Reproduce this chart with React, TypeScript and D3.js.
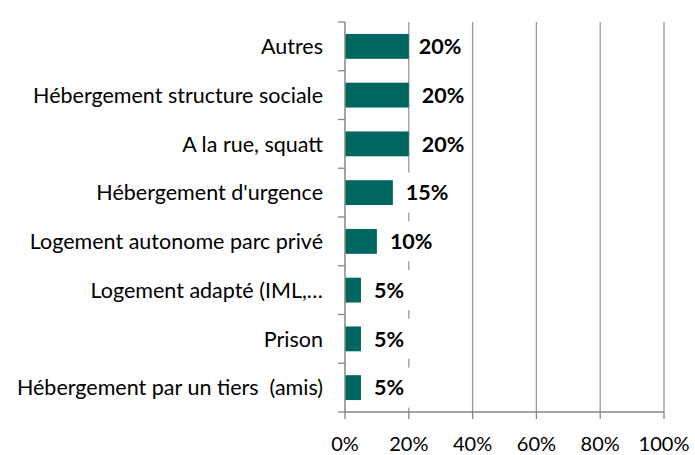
import React from "react";
import * as d3 from "d3";

const categories = [
  "Autres",
  "Hébergement structure sociale",
  "A la rue, squatt",
  "Hébergement d'urgence",
  "Logement autonome parc privé",
  "Logement adapté (IML,…",
  "Prison",
  "Hébergement par un tiers  (amis)",
];
const values = [20, 20, 20, 15, 10, 5, 5, 5];
const xTicks = [0, 20, 40, 60, 80, 100];

const W = 695;
const H = 455;
const left = 345;
const right = 664;
const top = 22;
const bottom = 412;
const font = "Lato, 'Open Sans', sans-serif";

export default function App() {
  const x = d3.scaleLinear().domain([0, 100]).range([left, right]);
  const y = d3.scaleBand().domain(categories).range([top, bottom]).paddingInner(0.49).paddingOuter(0.245);
  const band = d3.scaleBand().domain(categories).range([top, bottom]);
  const gridColor = "#9a9a9a";
  const axisColor = "#868686";
  const labelW = (v: number) => (String(v).length === 1 ? 30 : 42);
  return (
    <svg width={W} height={H} style={{ position: "absolute", left: 0, top: 0 }}>
      <rect width={W} height={H} fill="#fff" />
      {xTicks.filter((t) => t > 0).map((t) => (
        <line key={t} x1={x(t)} x2={x(t)} y1={top} y2={bottom} stroke={gridColor} strokeWidth={1.3} />
      ))}
      {categories.map((c, i) => (
        <rect key={c} x={x(0)} y={y(c)!} width={x(values[i]) - x(0)} height={y.bandwidth()} fill="#006760" />
      ))}
      {categories.map((c, i) => {
        const lx = x(values[i]) + (i === 0 ? 10 : 13);
        const cy = band(c)! + band.bandwidth() / 2;
        return (
          <g key={c}>
            <rect x={lx - 7} y={cy - 20} width={labelW(values[i]) + 14} height={40} fill="#fff" />
            <text x={lx} y={cy} dy="0.36em" fontFamily={font} fontWeight={700} fontSize={21.5} fill="#000">
              {values[i]}%
            </text>
          </g>
        );
      })}
      {/* y axis */}
      <line x1={left} x2={left} y1={top} y2={bottom} stroke={axisColor} strokeWidth={1.5} />
      {d3.range(categories.length + 1).map((k) => {
        const yy = top + k * band.step();
        return <line key={k} x1={left - 7} x2={left} y1={yy} y2={yy} stroke={axisColor} strokeWidth={1.3} />;
      })}
      {categories.map((c) => (
        <text key={c} x={323} y={band(c)! + band.bandwidth() / 2} dy="0.36em" textAnchor="end" fontFamily={font} fontSize={21.5} fill="#000" style={{ whiteSpace: "pre" }}>
          {c}
        </text>
      ))}
      {/* x axis */}
      <line x1={left} x2={right} y1={bottom} y2={bottom} stroke={axisColor} strokeWidth={1.5} />
      {xTicks.map((t) => (
        <g key={t}>
          <line x1={x(t)} x2={x(t)} y1={bottom} y2={bottom + 7} stroke={axisColor} strokeWidth={1.3} />
          <text x={x(t)} y={451} textAnchor="middle" fontFamily={font} fontSize={20} fill="#000">
            {t}%
          </text>
        </g>
      ))}
    </svg>
  );
}
